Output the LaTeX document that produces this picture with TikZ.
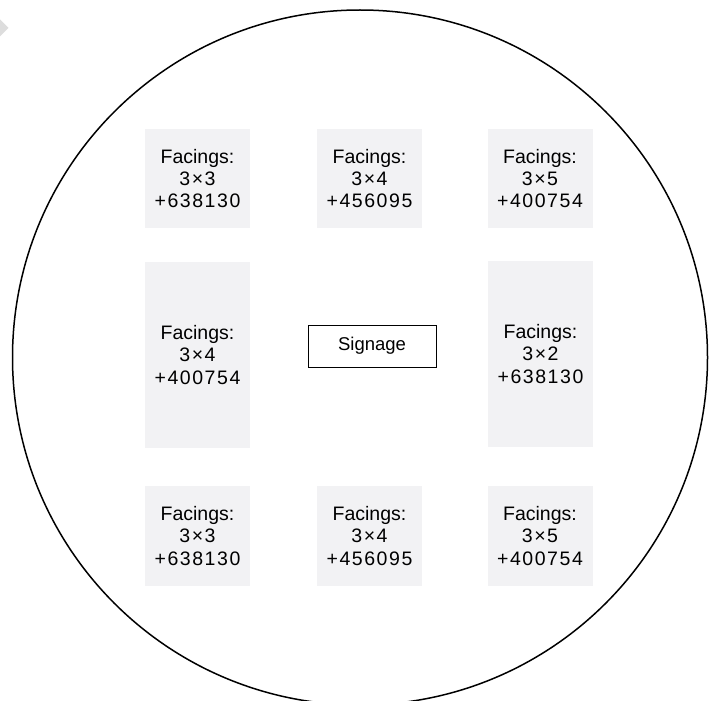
\documentclass[tikz,border=0pt]{standalone}
\usepackage{fontspec}
\setmainfont{Liberation Sans}
\newfontfamily\numfont[LetterSpace=8]{Liberation Sans}
\definecolor{shelf}{RGB}{242,242,244}
\definecolor{marker}{RGB}{221,221,221}
\tikzset{
  shelfbox/.style={fill=shelf, draw=none, inner sep=0pt, align=center,
    minimum width=105bp, font=\fontsize{19.5bp}{22.2bp}\selectfont},
  signbox/.style={draw=black, line width=1bp, fill=white, inner sep=0pt,
    minimum width=128bp, minimum height=42bp, font=\fontsize{18.5bp}{22bp}\selectfont},
  ring/.style={draw=black, line width=1.5bp}
}
\newcommand{\facing}[2]{Facings:\\{\numfont #1}\\{\numfont #2}}
\begin{document}
\begin{tikzpicture}[x=1bp,y=-1bp]
\useasboundingbox (0,0) rectangle (712,701);
\clip (0,0) rectangle (712,701);
\fill[white] (0,0) rectangle (712,701);
\fill[marker] (0,19.5) -- (8.5,28) -- (0,36.5) -- cycle;
\draw[ring] (360,357.5) circle[radius=347.5];
% top row
\node[shelfbox, minimum height=99bp] (a1) at (197.5,178.5) {\facing{3×3}{+638130}};
\node[shelfbox, minimum height=99bp] (a2) at (369.5,178.5) {\facing{3×4}{+456095}};
\node[shelfbox, minimum height=99bp] (a3) at (540,178.5) {\facing{3×5}{+400754}};
% middle row
\node[shelfbox, minimum height=186bp] (b1) at (197.5,355) {\facing{3×4}{+400754}};
\node[signbox] (sg) at (372,346) {Signage};
\node[shelfbox, minimum height=186bp] (b3) at (540.5,354) {\facing{3×2}{+638130}};
% bottom row
\node[shelfbox, minimum height=100bp] (c1) at (197.5,536) {\facing{3×3}{+638130}};
\node[shelfbox, minimum height=100bp] (c2) at (369.5,536) {\facing{3×4}{+456095}};
\node[shelfbox, minimum height=100bp] (c3) at (540,536) {\facing{3×5}{+400754}};
\end{tikzpicture}
\end{document}
